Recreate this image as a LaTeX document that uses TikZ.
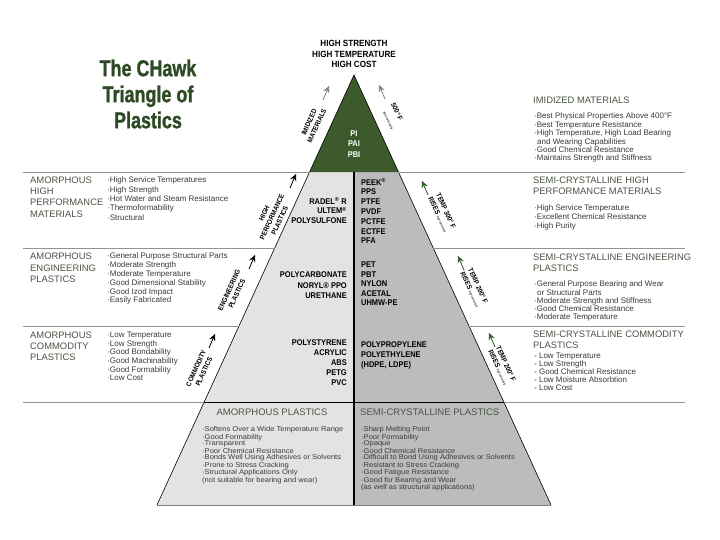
\documentclass[tikz,border=0pt]{standalone}
\usepackage{fontspec}
\setmainfont{Liberation Sans}
\newfontfamily\condfont[FakeStretch=0.9]{Liberation Sans}
\newfontfamily\boxfont[FakeStretch=1.08]{Liberation Sans}
\newfontfamily\titlefont[FakeStretch=0.78,FakeBold=1.2]{Liberation Sans}
\definecolor{TriGreen}{HTML}{3C5A2B}
\definecolor{TitleGreen}{HTML}{2E4A24}
\definecolor{ArrowGreen}{HTML}{2F5A26}
\definecolor{LightGray}{HTML}{E3E3E3}
\definecolor{MidGray}{HTML}{BCBCBE}
\definecolor{HdrGray}{HTML}{4A5544}
\definecolor{TxtGray}{HTML}{3A3A3A}
\usetikzlibrary{calc,arrows.meta}

\begin{document}
\begin{tikzpicture}
[x=1pt,y=-1pt,
   sepline/.style={draw=gray!85,line width=.6pt},
   hdr/.style={font=\fontsize{9.4}{#1}\selectfont,text=HdrGray,align=left,
   anchor=north west,inner sep=0pt},
   lst/.style={font=\fontsize{8}{#1}\selectfont,text=TxtGray,align=left,
   anchor=north west,inner sep=0pt},
   boxlst/.style={font=\boxfont\fontsize{7}{#1}\selectfont,text=TxtGray,align=left,
   anchor=north west,inner sep=0pt},
   matl/.style={font=\condfont\bfseries\fontsize{8.3}{#1}\selectfont,inner sep=0pt},
   edgelbl/.style={font=\condfont\bfseries\fontsize{7}{8.5}\selectfont,inner sep=0pt},
   tinytxt/.style={font=\fontsize{3.2}{3.5}\selectfont},
   rise/.style={-{Stealth[length=7pt,width=6.5pt,inset=2.5pt]},line width=.8pt}]
\fill[white] (0,0) rectangle (720,540);
\useasboundingbox (0,0) rectangle (720,540);

\coordinate (apex) at (354,75);
\coordinate (bl) at (157,505);
\coordinate (br) at (551,505);
\foreach \n/\f in {1/0.2256,2/0.4023,3/0.5837,4/0.7605}{
  \coordinate (l\n) at ($(apex)!\f!(bl)$);
  \coordinate (r\n) at ($(apex)!\f!(br)$);
}
\coordinate (lm) at (23,0);
\coordinate (rm) at (685,0);

% triangle
\fill[LightGray] (l1) -- (apex |- l1) -- (apex |- bl) -- (bl) -- cycle;
\fill[MidGray] (apex |- r1) -- (r1) -- (br) -- (apex |- br) -- cycle;
\fill[TriGreen] (apex) -- (r1) -- (l1) -- cycle;
\draw[line width=.6pt] (bl) -- (apex) -- (br);
\draw[gray,line width=.6pt] (bl) -- (br);
\draw[line width=.8pt] (l4) -- (r4);
\draw[line width=2pt] (apex |- l1) -- (apex |- bl);
\foreach \n in {1,...,4}{
  \draw[sepline] (lm |- l\n) -- (l\n);
  \draw[sepline] (r\n) -- (rm |- r\n);
}

% title and peak
\node[font=\titlefont\bfseries\fontsize{23}{26}\selectfont,text=TitleGreen,
align=center] (title) at (148,94) {The CHawk\\Triangle of\\Plastics};
\node[font=\condfont\bfseries\fontsize{9}{10.5}\selectfont,align=center]
(peak) at (354,54) {HIGH STRENGTH\\HIGH TEMPERATURE\\HIGH COST};

% materials in the triangle
\node[matl=10.5,text=white,align=center] (imidm) at (354,144) {PI\\PAI\\PBI};
\node[matl=9.8,align=right,anchor=north east] (hpam) at (347,197)
{RADEL\textsuperscript{®} R\\ULTEM\textsuperscript{®}\\POLYSULFONE};
\node[matl=9.8,align=left,anchor=north west] (hpsc) at (361,178)
{PEEK\textsuperscript{®}\\PPS\\PTFE\\PVDF\\PCTFE\\ECTFE\\PFA};
\node[matl=10.5,align=right,anchor=north east] (engam) at (347,272)
{POLYCARBONATE\\NORYL® PPO\\URETHANE};
\node[matl=9.5,align=left,anchor=north west] (engsc) at (361,262)
{PET\\PBT\\NYLON\\ACETAL\\UHMW-PE};
\node[matl=9.8,align=right,anchor=north east] (comam) at (347,340)
{POLYSTYRENE\\ACRYLIC\\ABS\\PETG\\PVC};
\node[matl=10,align=left,anchor=north west] (comsc) at (361,342)
{POLYPROPYLENE\\POLYETHYLENE\\(HDPE, LDPE)};

% labels along the edges
\node[edgelbl,align=center,rotate=65.4] (imidlbl) at (313,124) {IMIDIZED\\MATERIALS};
\node[edgelbl,rotate=-65.4] (f500) at (397,112) {500° F};
\node[tinytxt,rotate=-65.4] (f500x) at (388,121) {approximately};
\node[edgelbl,align=center,rotate=65.4] (hperf) at (272,217)
{HIGH\\PERFORMANCE\\PLASTICS};
\node[edgelbl,align=left,rotate=-65.4] (t300) at (442,213)
{TEMP 300° F\\RISES {\mdseries\fontsize{3.2}{3.5}\selectfont approximately}};
\node[edgelbl,align=center,rotate=65.4] (englbl) at (233,292) {ENGINEERING\\PLASTICS};
\node[edgelbl,align=left,rotate=-65.4] (t200a) at (474,288)
{TEMP 200° F\\RISES {\mdseries\fontsize{3.2}{3.5}\selectfont approximately}};
\node[edgelbl,align=center,rotate=65.4] (comlbl) at (200,370) {COMMODITY\\PLASTICS};
\node[edgelbl,align=left,rotate=-65.4] (t200b) at (502,366)
{TEMP 200° F\\RISES {\mdseries\fontsize{3.2}{3.5}\selectfont approximately}};

\foreach \n/\sx/\sy/\tx/\ty/\col in {imid/323/100/329/86/gray,
  f500/385/99/379/85/gray,
  hperf/290/188/296/174/black,
  t300/428/195/422/181/ArrowGreen,
  eng/249/269/255/255/black,
  t200a/464/270/458/256/ArrowGreen,
  com/209/348/215/334/black,
  t200b/495/347/489/333/ArrowGreen}{
  \coordinate (\n s) at (\sx,\sy);
  \coordinate (\n t) at (\tx,\ty);
  \draw[rise,\col] (\n s) -- (\n t);
}

% left descriptions
\node[hdr=11.3] (amhp) at (30,176.6) {AMORPHOUS\\HIGH\\PERFORMANCE\\MATERIALS};
\node[lst=9.3] (amhpl) at (107,177) {·High Service Temperatures\\·High Strength\\
·Hot Water and Steam Resistance\\·Thermoformability\\·Structural};
\node[hdr=11.8] (ameng) at (30,252.6) {AMORPHOUS\\ENGINEERING\\PLASTICS};
\node[lst=8.8] (amengl) at (107,253) {·General Purpose Structural Parts\\
·Moderate Strength\\·Moderate Temperature\\·Good Dimensional Stability\\
·Good Izod Impact\\·Easily Fabricated};
\node[hdr=11] (amcom) at (30,331.6) {AMORPHOUS\\COMMODITY\\PLASTICS};
\node[lst=8.6] (amcoml) at (107,332) {·Low Temperature\\·Low Strength\\
·Good Bondability\\·Good Machinability\\·Good Formability\\·Low Cost};

% right descriptions
\node[hdr=11] (scimid) at (533,96.6) {IMIDIZED MATERIALS};
\node[lst=8.4] (scimidl) at (534,113) {·Best Physical Properties Above 400°F\\
·Best Temperature Resistance\\·High Temperature, High Load Bearing\\
\hspace*{3pt}and Wearing Capabilities\\·Good Chemical Resistance\\
·Maintains Strength and Stiffness};
\node[hdr=11] (schp) at (533,176.6) {SEMI-CRYSTALLINE HIGH\\PERFORMANCE MATERIALS};
\node[lst=9] (schpl) at (534,205) {·High Service Temperature\\
·Excellent Chemical Resistance\\·High Purity};
\node[hdr=11.5] (sceng) at (533,253.6) {SEMI-CRYSTALLINE ENGINEERING\\PLASTICS};
\node[lst=8.25] (scengl) at (534,281) {·General Purpose Bearing and Wear\\
\hspace*{3pt}or Structural Parts\\·Moderate Strength and Stiffness\\
·Good Chemical Resistance\\·Moderate Temperature};
\node[hdr=11] (sccom) at (533,330.6) {SEMI-CRYSTALLINE COMMODITY\\PLASTICS};
\node[lst=8] (sccoml) at (534,353) {- Low Temperature\\- Low Strength\\
- Good Chemical Resistance\\- Low Moisture Absorbtion\\- Low Cost};

% bottom box
\node[font=\fontsize{9.5}{11}\selectfont,text=HdrGray] (amplas) at (272,412)
{AMORPHOUS PLASTICS};
\node[font=\fontsize{9.5}{11}\selectfont,text=HdrGray,anchor=west,inner sep=0pt]
(scplas) at (360,412) {SEMI-CRYSTALLINE PLASTICS};
\node[boxlst=6.5] (amplasl) at (202,426.5) {·Softens Over a Wide Temperature Range\\
·Good Formability\\·Transparent\\·Poor Chemical Resistance\\
·Bonds Well Using Adhesives or Solvents\\·Prone to Stress Cracking\\
·Structural Applications Only\\(not suitable for bearing and wear)};
\node[boxlst=6.5] (scplasl) at (361,426.5) {·Sharp Melting Point\\·Poor Formability\\
·Opaque\\·Good Chemical Resistance\\·Difficult to Bond Using Adhesives or Solvents\\
·Resistant to Stress Cracking\\·Good Fatigue Resistance\\
·Good for Bearing and Wear\\(as well as structural applications)};
%%
\end{tikzpicture}
\end{document}
